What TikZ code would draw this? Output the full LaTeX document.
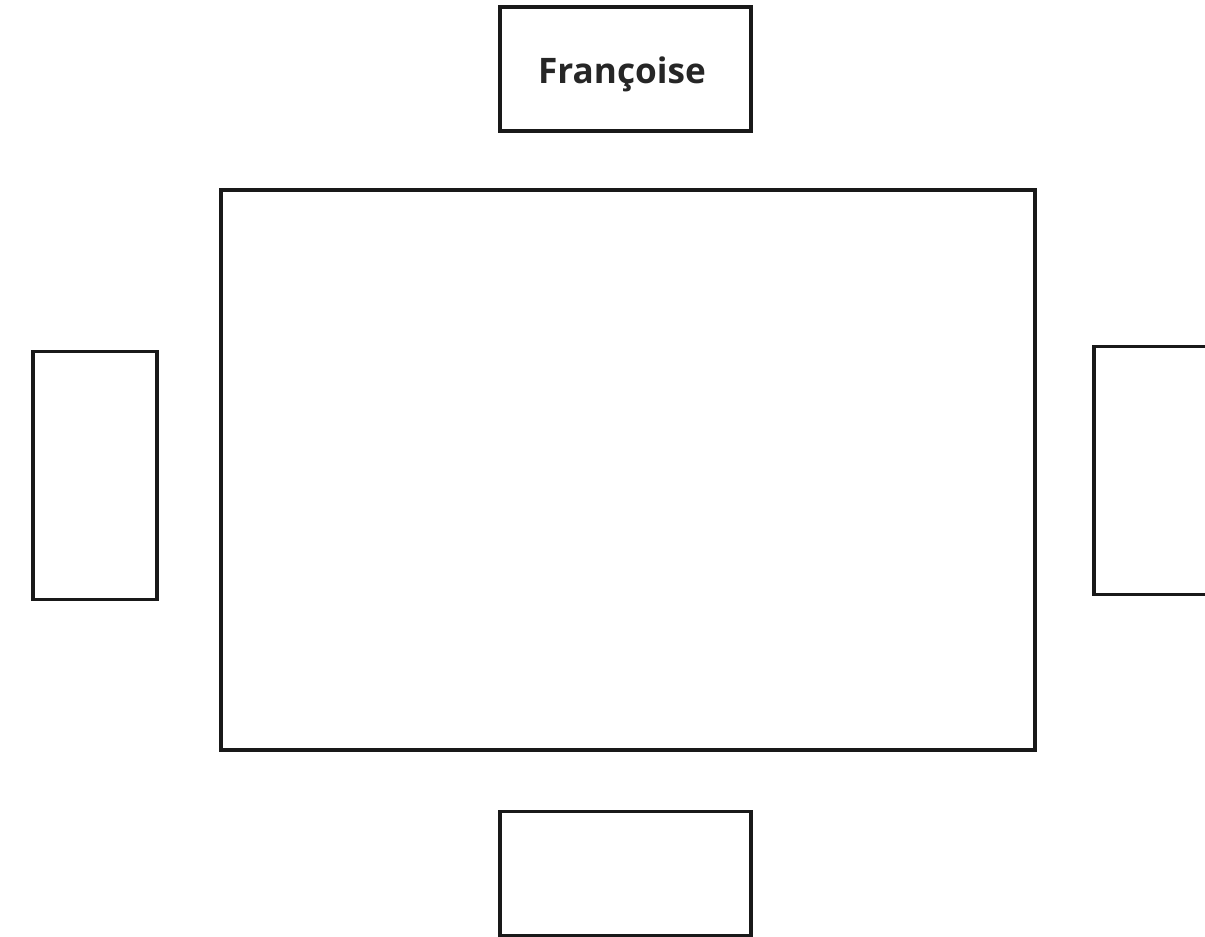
\documentclass[tikz,border=0pt]{standalone}
\usepackage{fontspec}
\setsansfont{Open Sans}
\usetikzlibrary{positioning}

\begin{document}
\begin{tikzpicture}[
  x=0.2mm, y=-0.2mm,
  seat/.style={draw=black!90, line width=2.1pt, inner sep=0pt,
               font=\sffamily\bfseries\fontsize{20}{24}\selectfont, text=black!85},
  hseat/.style={seat, minimum width=50.2mm, minimum height=24.8mm},
  vseat/.style={seat, minimum width=24.8mm, minimum height=49.6mm},
  tablebox/.style={draw=black!90, line width=2.1pt, minimum width=162.8mm, minimum height=112mm}]
  \clip (0,0) rectangle (1205,937);
  \fill[white] (0,0) rectangle (1205,937);
  % table and the four places round it
  \node[tablebox] (tbl) at (628,470) {};
  \node[hseat] (north) at (625.5,69) {\raisebox{-3mm}[0pt][0pt]{\kern-1.4mm Françoise}};
  \node[vseat] (west) at (95,475.5) {};
  \node[vseat] (east) at (1156,470.5) {};
  \node[hseat] (south) at (625.5,873.5) {};
\end{tikzpicture}
\end{document}
